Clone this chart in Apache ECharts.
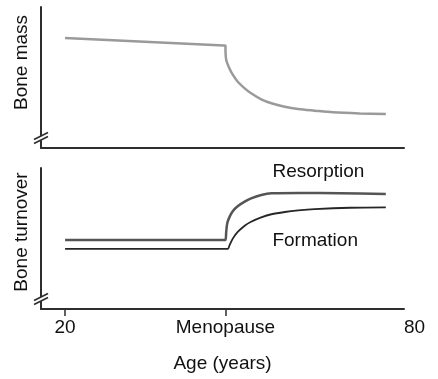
<!DOCTYPE html>
<html>
<head>
<meta charset="utf-8">
<script src="https://cdn.jsdelivr.net/npm/echarts@6/dist/echarts.min.js"></script>
<style>
html,body{margin:0;padding:0;background:#fff;}
#chart{width:438px;height:379px;}
</style>
</head>
<body>
<div id="chart"></div>
<script>
// ---- data ----
const massAge   = [20, 49.7, 50, 50.02, 50.15, 50.6, 51.4, 52.3, 53.6, 54.8, 56.7, 58.6, 61.1, 63.6, 66.7, 70.1, 75.1, 80];
const massValue = [78.0, 72.65, 72.6, 67.4, 62.4, 57.7, 51.8, 47.0, 42.3, 38.8, 34.5, 31.7, 29.3, 27.7, 26.5, 25.3, 24.5, 24.1];

const resorptionAge   = [20, 49.7, 50, 50.15, 50.34, 50.79, 51.4, 52.34, 53.6, 54.8, 56.7, 58.6, 63.9, 71.4, 80];
const resorptionValue = [48.9, 48.9, 48.9, 54.8, 60.8, 65.5, 69.5, 73.0, 76.1, 78.5, 80.9, 82.1, 82.3, 82.1, 81.6];

const formationAge   = [20, 50.2, 50.47, 50.79, 51.4, 52.34, 53.6, 54.8, 56.7, 58.6, 61.1, 63.6, 66.7, 73.3, 80];
const formationValue = [42.6, 42.6, 42.6, 45.4, 50.1, 54.8, 59.1, 61.9, 65.0, 67.2, 68.8, 69.9, 70.8, 71.8, 72.1];

const seriesNames = ['Bone mass', 'Resorption', 'Formation'];
const yTitles = ['Bone mass', 'Bone turnover'];
const xTitle = 'Age (years)';
const tickAges = [20, 50];
const tickLabels = ['20', 'Menopause', '80'];
const labelAnchors = [[58.7, 97.2], [58.7, 48.2]]; // where series names are written (age, value)

// ---- chart ----
const XMIN = 15.5, XMAX = 83.4;
const FONT = 'Liberation Sans, Arial, sans-serif';
const AX = '#2e2e2e';
const pair = (a, b) => a.map((x, i) => [x, b[i]]);
const labelPos = tickAges.concat([XMAX]);

const chart = echarts.init(document.getElementById('chart'), null, {renderer: 'canvas'});

function xAxisBase(grid) {
  return {
    type: 'value', gridIndex: grid, min: XMIN, max: XMAX,
    splitLine: {show: false},
    axisLine: {show: true, onZero: false, lineStyle: {color: AX, width: 2}},
  };
}
function yAxisBase(grid, name, pad) {
  return {
    type: 'value', gridIndex: grid, min: 0, max: 100,
    splitLine: {show: false}, axisTick: {show: false}, axisLabel: {show: false},
    axisLine: {show: true, onZero: false, lineStyle: {color: AX, width: 2}},
    name: name, nameLocation: 'middle', nameGap: 10,
    nameTextStyle: {fontFamily: FONT, fontSize: 19, color: '#111', padding: [0, 0, 0, pad]}
  };
}
function nameMark(text, coord) {
  return {
    symbol: 'circle', symbolSize: 1, silent: true,
    itemStyle: {color: 'rgba(0,0,0,0)'},
    data: [{coord: coord}],
    label: {show: true, formatter: text, position: 'right', distance: 0,
      fontFamily: FONT, fontSize: 19, color: '#111'}
  };
}

const option = {
  animation: false,
  grid: [
    {left: 41, top: 7, width: 363, height: 141},
    {left: 41, top: 168, width: 363, height: 141}
  ],
  xAxis: [
    Object.assign(xAxisBase(0), {axisTick: {show: false}, axisLabel: {show: false}}),
    Object.assign(xAxisBase(1), {
      axisTick: {show: true, customValues: tickAges, length: 7, lineStyle: {color: AX, width: 1.5}},
      axisLabel: {
        show: true, customValues: labelPos, margin: 9, alignMaxLabel: 'left',
        fontFamily: FONT, fontSize: 19, color: '#111',
        formatter: function (v) { const i = labelPos.indexOf(v); return i >= 0 ? tickLabels[i] : ''; }
      },
      name: xTitle, nameLocation: 'middle', nameGap: 45,
      nameTextStyle: {fontFamily: FONT, fontSize: 19, color: '#111'}
    })
  ],
  yAxis: [
    yAxisBase(0, yTitles[0], 30),
    yAxisBase(1, yTitles[1], 13)
  ],
  series: [
    {
      name: seriesNames[0], type: 'line', xAxisIndex: 0, yAxisIndex: 0,
      data: pair(massAge, massValue), showSymbol: false, symbol: 'none', smooth: 0.3,
      lineStyle: {color: '#9a9a9a', width: 2.5}
    },
    {
      name: seriesNames[1], type: 'line', xAxisIndex: 1, yAxisIndex: 1,
      data: pair(resorptionAge, resorptionValue), showSymbol: false, symbol: 'none', smooth: 0.3,
      lineStyle: {color: '#555555', width: 2.5},
      markPoint: nameMark(seriesNames[1], labelAnchors[0])
    },
    {
      name: seriesNames[2], type: 'line', xAxisIndex: 1, yAxisIndex: 1,
      data: pair(formationAge, formationValue), showSymbol: false, symbol: 'none', smooth: 0.3,
      lineStyle: {color: '#262626', width: 1.8},
      markPoint: nameMark(seriesNames[2], labelAnchors[1])
    }
  ]
};
chart.setOption(option);

// axis break marks (decoration) at the bottom of each y axis
function breakMark(gridIndex) {
  const p = chart.convertToPixel({gridIndex: gridIndex}, [XMIN, 0]);
  const x = p[0], y = p[1] - 10;
  const ls = {stroke: AX, lineWidth: 1.6};
  return [
    {type: 'polygon', shape: {points: [[x - 7, y + 1.5], [x + 7, y - 5.5], [x + 7, y - 1.5], [x - 7, y + 5.5]]}, style: {fill: '#fff'}, z: 100},
    {type: 'line', shape: {x1: x - 7, y1: y + 1.5, x2: x + 7, y2: y - 5.5}, style: ls, z: 101},
    {type: 'line', shape: {x1: x - 7, y1: y + 5.5, x2: x + 7, y2: y - 1.5}, style: ls, z: 101}
  ];
}
chart.setOption({graphic: breakMark(0).concat(breakMark(1))});
</script>
</body>
</html>
